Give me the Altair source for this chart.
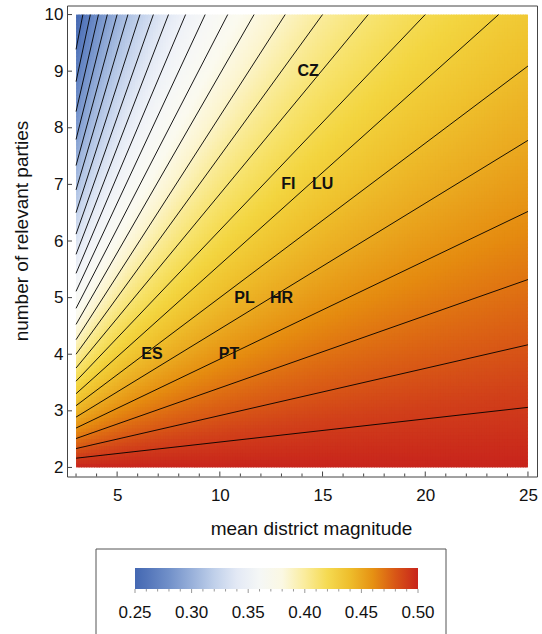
import altair as alt
import numpy as np
import pandas as pd

# ---------------- values ----------------
x_major = [5, 10, 15, 20, 25]
x_minor = [3, 4, 6, 7, 8, 9, 11, 12, 13, 14, 16, 17, 18, 19, 21, 22, 23, 24]
y_major = [2, 3, 4, 5, 6, 7, 8, 9, 10]

contour_levels = [0.26, 0.27, 0.28, 0.29, 0.30, 0.31, 0.32, 0.33, 0.34, 0.35, 0.36, 0.37,
                  0.38, 0.39, 0.40, 0.41, 0.42, 0.43, 0.44, 0.45, 0.46, 0.47, 0.48, 0.49]

countries = ["CZ", "FI", "LU", "PL", "HR", "ES", "PT"]
country_m = [14.3, 13.33, 15.0, 11.2, 13.0, 6.7, 10.45]
country_n = [9, 7, 7, 5, 5, 4, 4]

legend_values = [0.25, 0.30, 0.35, 0.40, 0.45, 0.50]
legend_ticks = [0.25, 0.26, 0.27, 0.28, 0.29, 0.30, 0.31, 0.32, 0.33, 0.34, 0.35, 0.36, 0.37,
                0.38, 0.39, 0.40, 0.41, 0.42, 0.43, 0.44, 0.45, 0.46, 0.47, 0.48, 0.49, 0.50]

# evenly spaced colour stops (0.25 .. 0.50, step 0.0125)
color_stops = [0.25, 0.2625, 0.275, 0.2875, 0.30, 0.3125, 0.325, 0.3375, 0.35, 0.3625,
               0.375, 0.3875, 0.40, 0.4125, 0.425, 0.4375, 0.45, 0.4625, 0.475, 0.4875, 0.50]
color_hex = ["#4468b2", "#5577bb", "#6888c5", "#7e9bcf", "#98b0da", "#b2c5e5", "#cad7ee",
             "#e0e7f4", "#eff2f8", "#f7f8f6", "#fbfaef", "#fcf5d0", "#faec9c", "#f7e26a",
             "#f3d540", "#efc22e", "#eaa920", "#e58b10", "#dc6514", "#d1401a", "#c8241c"]

M_MIN, M_MAX = 3, 25
N_MIN, N_MAX = 2, 10


def share(m, n):
    # function shown by the density plot (straight iso-lines through (-1, 2))
    return (m + 1) / (2 * m + n)


# ---------------- density grid ----------------
nx, ny = 176, 128
m_edges = np.linspace(M_MIN, M_MAX, nx + 1)
n_edges = np.linspace(N_MIN, N_MAX, ny + 1)
dm = m_edges[1] - m_edges[0]
dn = n_edges[1] - n_edges[0]
mm, nn = np.meshgrid(m_edges[:-1], n_edges[:-1], indexing="ij")
mm = mm.ravel()
nn = nn.ravel()
grid = pd.DataFrame({
    "m": np.round(mm, 4),
    "m2": np.round(np.minimum(mm + dm * 1.35, M_MAX), 4),
    "n": np.round(nn, 4),
    "n2": np.round(np.minimum(nn + dn * 1.35, N_MAX), 4),
    "v": np.round(share(mm + dm / 2, nn + dn / 2), 5),
})

# ---------------- contour lines ----------------
rows = []
for c in contour_levels:
    s = 1 / c - 2
    m0, n0 = M_MIN, N_MIN + s * (M_MIN + 1)
    n_end = N_MIN + s * (M_MAX + 1)
    if n_end <= N_MAX:
        m1, n1 = M_MAX, n_end
    else:
        m1, n1 = (N_MAX - N_MIN) / s - 1, N_MAX
    rows.append({"level": c, "m": m0, "n": n0, "m2": m1, "n2": n1})
contours = pd.DataFrame(rows)

labels = pd.DataFrame({"name": countries, "m": country_m, "n": country_n})

W, H = 470, 471
LEG_X, LEG_Y, LEG_LEN, LEG_THICK = 68, 562.5, 283, 21

xscale = alt.Scale(domain=[2.56, 25.44], nice=False, zero=False)
yscale = alt.Scale(domain=[1.84, 10.16], nice=False, zero=False)
cscale = alt.Scale(domain=color_stops, range=color_hex, interpolate="rgb", clamp=True)

xaxis = alt.Axis(values=x_major, title="mean district magnitude", ticks=False,
                 tickSize=0, domain=False, grid=False, labelFontSize=17,
                 labelPadding=11, labelFlush=False, labelColor="#111",
                 titleFontSize=19, titleFontWeight="normal", titleColor="#111",
                 titleX=244, titleY=57.5, titleBaseline="alphabetic", titleAlign="center")
yaxis = alt.Axis(values=y_major, title="number of relevant parties", ticks=False,
                 tickSize=0, domain=False, grid=False, labelFontSize=17,
                 labelPadding=4, labelFlush=False, labelColor="#111",
                 titleFontSize=19, titleFontWeight="normal", titleColor="#111",
                 titleX=-46, titleY=225, titleAngle=270, titleBaseline="middle",
                 titleAlign="center")


def X(f):
    return alt.X(f, scale=xscale, axis=xaxis)


def Y(f):
    return alt.Y(f, scale=yscale, axis=yaxis)


heat = alt.Chart(grid).mark_rect(strokeWidth=0).encode(
    x=X("m:Q"), x2="m2:Q", y=Y("n:Q"), y2="n2:Q",
    color=alt.Color("v:Q", scale=cscale,
                    legend=alt.Legend(orient="none", legendX=LEG_X, legendY=LEG_Y,
                                      direction="horizontal", gradientLength=LEG_LEN,
                                      gradientThickness=LEG_THICK, title=None,
                                      values=[0.25, 0.50], labelExpr="''",
                                      labelOpacity=0, labelFontSize=1, padding=0,
                                      gradientStrokeWidth=0)),
)

lines = alt.Chart(contours).mark_rule(color="black", strokeWidth=0.9).encode(
    x=X("m:Q"), x2="m2:Q", y=Y("n:Q"), y2="n2:Q")

text = alt.Chart(labels).mark_text(font="Liberation Sans", fontWeight="bold", fontSize=16,
                                   color="#111", align="center", baseline="middle").encode(
    x=X("m:Q"), y=Y("n:Q"), text="name:N")

xt_major = alt.Chart(pd.DataFrame({"m": x_major})).mark_rule(color="#444", strokeWidth=1).encode(
    x=X("m:Q"), y=alt.value(H), y2=alt.value(H - 5))
xt_minor = alt.Chart(pd.DataFrame({"m": x_minor})).mark_rule(color="#444", strokeWidth=1).encode(
    x=X("m:Q"), y=alt.value(H), y2=alt.value(H - 3))
yt_major = alt.Chart(pd.DataFrame({"n": y_major})).mark_rule(color="#444", strokeWidth=1).encode(
    y=Y("n:Q"), x=alt.value(0), x2=alt.value(5))

# colour-bar ticks and labels (placed along the gradient of the legend)
lt = pd.DataFrame({"t": legend_ticks})
lt["major"] = [round(t * 100) % 5 == 0 for t in legend_ticks]
pos_expr = f"{LEG_X} + (datum.t - 0.25) / 0.25 * {LEG_LEN}"
leg_ticks = alt.Chart(lt).transform_calculate(
    px=pos_expr,
    y1=f"{LEG_Y + LEG_THICK}",
).transform_calculate(
    y2="datum.y1 + (datum.major ? 4 : 2.5)"
).mark_rule(color="#999", strokeWidth=1).encode(
    x=alt.X("px:Q", scale=None, axis=None),
    y=alt.Y("y1:Q", scale=None, axis=None),
    y2="y2:Q",
)

leg_labels = alt.Chart(pd.DataFrame({"t": legend_values})).transform_calculate(
    px=pos_expr,
    py="612.3",
).mark_text(font="Liberation Sans", fontSize=17, color="#111", align="center",
            baseline="alphabetic").encode(
    x=alt.X("px:Q", scale=None, axis=None),
    y=alt.Y("py:Q", scale=None, axis=None),
    text=alt.Text("t:Q", format=".2f"),
)

box = alt.Chart(pd.DataFrame({"k": [0]})).mark_rect(fillOpacity=0, stroke="#555",
                                                    strokeWidth=1).encode(
    x=alt.value(29), x2=alt.value(379), y=alt.value(543.5), y2=alt.value(700))

chart = alt.layer(heat, lines, text, xt_minor, xt_major, yt_major, leg_ticks, leg_labels,
                  box).properties(
    width=W, height=H,
    padding={"left": 67, "top": 5.5, "right": 5, "bottom": 158},
    autosize=alt.AutoSizeParams(type="none"),
).configure(font="Liberation Sans").configure_view(stroke="#444", strokeWidth=1)

chart.save("out.html", embed_options={"renderer": "svg", "actions": False})
